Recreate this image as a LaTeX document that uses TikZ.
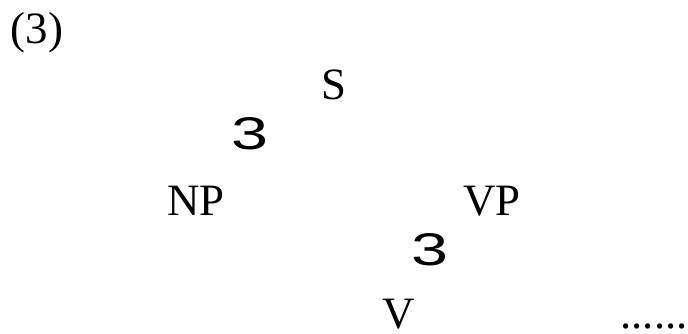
\documentclass[tikz,border=0pt]{standalone}
\usepackage{graphicx}
\usepackage{fontspec}
\setmainfont{Liberation Serif}
\newfontfamily\branchfont{Liberation Sans}

\begin{document}
\begin{tikzpicture}[x=1bp, y=-1bp]

                \tikzset{
                    cat/.style={inner sep=0pt, anchor=base, font=\fontsize{45}{54}\selectfont},
                    branch/.style={inner sep=0pt, font=\branchfont\fontsize{46}{54}\selectfont}
                }
                \useasboundingbox (0,0) rectangle (688,333);

                % Example number
                \node[cat] (num) at (37,43) {(3)};

                % Top of the tree
                \node[cat] (s) at (334,99) {S};
                \node[branch] (br1) at (250,134) {\scalebox{1.45}[1]{3}};

                % Daughters of S
                \node[cat] (np) at (196,215) {NP};
                \node[cat] (vp) at (492,215) {VP};
                \node[branch] (br2) at (430,250) {\scalebox{1.45}[1]{3}};

                % Daughters of VP
                \node[cat] (v) at (399,328) {V};
                \node[cat] (rest) at (654,328) {......};

\end{tikzpicture}
\end{document}
